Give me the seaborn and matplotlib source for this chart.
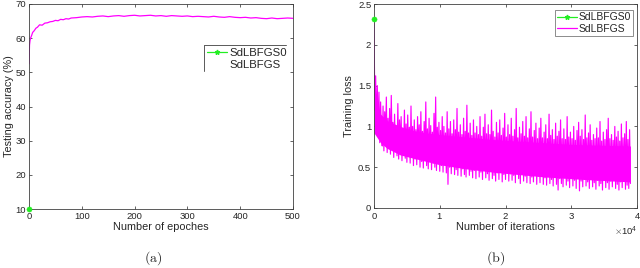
import numpy as np
import matplotlib
matplotlib.use("Agg")
import matplotlib.pyplot as plt
from matplotlib.lines import Line2D
import seaborn as sns

# ==============================================================
# DATA
# ==============================================================
# (a) testing accuracy vs epochs
acc_epochs = [0, 1, 2, 3, 5, 7, 10, 13, 16, 20, 25, 30, 35, 40, 45, 50,
              55, 60, 65, 70, 75, 80, 90, 100,
              110, 120, 130, 140, 150, 160, 170, 180, 190, 200,
              210, 220, 230, 240, 250, 260, 270, 280, 290, 300,
              310, 320, 330, 340, 350, 360, 370, 380, 390, 400,
              410, 420, 430, 440, 450, 460, 470, 480, 490, 500]
acc_sdlbfgs = [52.5, 58.0, 59.3, 60.0, 60.8, 61.7, 62.2, 62.9, 63.2, 63.9,
               63.8, 64.4, 64.5, 64.8, 64.9, 65.2, 65.1, 65.5, 65.4, 65.7,
               65.6, 65.9, 66.0, 66.2,
               66.3, 66.2, 66.4, 66.5, 66.3, 66.5, 66.6, 66.4, 66.6, 66.7,
               66.5, 66.6, 66.7, 66.5, 66.6, 66.4, 66.6, 66.5, 66.4, 66.5,
               66.3, 66.4, 66.3, 66.2, 66.4, 66.2, 66.1, 66.3, 66.1, 66.0,
               66.1, 65.9, 66.0, 65.8, 65.7, 65.9, 65.7, 65.8, 65.9, 65.8]
acc_sd0_epoch = [0]
acc_sd0 = [10.0]

# (b) training loss vs iterations, one sample every 125 iterations
loss_step = 125
loss_sdlbfgs = [
    2.30, 1.20, 1.62, 0.95, 1.50, 0.88, 1.42, 0.80, 1.30, 0.92,
    0.76, 1.25, 0.70, 1.18, 0.86, 1.36, 0.68, 1.10, 0.74, 1.22,
    0.66, 1.38, 0.80, 1.05, 0.62, 1.15, 0.72, 0.98, 0.64, 1.28,
    0.60, 1.08, 0.75, 1.12, 0.58, 0.95, 0.66, 1.20, 0.61, 1.03,
    0.56, 1.14, 0.70, 0.99, 0.55, 1.25, 0.63, 1.00, 0.52, 1.08,
    0.60, 0.96, 0.53, 1.12, 0.68, 1.02, 0.50, 1.18, 0.57, 0.94,
    0.49, 1.06, 0.62, 1.30, 0.52, 0.97, 0.48, 1.10, 0.58, 1.01,
    0.47, 0.93, 0.55, 1.16, 0.50, 1.36, 0.46, 0.99, 0.60, 1.05,
    0.45, 0.95, 0.52, 1.12, 0.44, 1.00, 0.56, 0.92, 0.43, 1.18,
    0.29, 0.97, 0.50, 1.06, 0.42, 0.91, 0.54, 1.08, 0.41, 0.96,
    0.47, 1.22, 0.40, 0.93, 0.52, 1.02, 0.39, 0.90, 0.48, 1.10,
    0.41, 0.94, 0.38, 1.26, 0.50, 0.92, 0.40, 1.04, 0.45, 0.89,
    0.37, 1.08, 0.46, 0.92, 0.36, 1.00, 0.49, 0.90, 0.38, 1.12,
    0.44, 0.88, 0.35, 0.99, 0.47, 1.15, 0.37, 0.91, 0.42, 1.02,
    0.34, 0.90, 0.45, 1.20, 0.36, 0.94, 0.40, 0.87, 0.33, 1.05,
    0.43, 0.92, 0.35, 1.08, 0.46, 0.89, 0.32, 0.98, 0.41, 1.16,
    0.35, 0.87, 0.44, 1.02, 0.33, 0.90, 0.42, 1.10, 0.34, 0.88,
    0.40, 0.96, 0.31, 1.22, 0.43, 0.86, 0.36, 0.99, 0.30, 0.91,
    0.42, 1.06, 0.33, 0.88, 0.39, 1.12, 0.31, 0.86, 0.44, 0.97,
    0.30, 1.18, 0.38, 0.87, 0.32, 0.95, 0.41, 1.04, 0.29, 0.85,
    0.39, 0.98, 0.31, 1.10, 0.43, 0.86, 0.29, 0.93, 0.37, 1.02,
    0.28, 0.85, 0.40, 1.15, 0.30, 0.89, 0.35, 0.96, 0.27, 0.84,
    0.38, 1.04, 0.29, 0.88, 0.22, 0.94, 0.36, 1.08, 0.30, 0.85,
    0.26, 0.97, 0.37, 0.84, 0.28, 1.12, 0.33, 0.87, 0.25, 0.93,
    0.36, 0.85, 0.27, 1.00, 0.34, 0.83, 0.24, 0.95, 0.38, 1.05,
    0.21, 0.88, 0.33, 0.96, 0.26, 0.84, 0.35, 1.14, 0.27, 0.86,
    0.32, 0.92, 0.24, 1.02, 0.36, 0.83, 0.26, 0.90, 0.31, 0.85,
    0.23, 0.98, 0.34, 0.86, 0.27, 1.06, 0.30, 0.82, 0.22, 0.93,
    0.35, 0.84, 0.25, 0.96, 0.31, 1.10, 0.23, 0.85, 0.33, 0.90,
    0.26, 0.83, 0.36, 1.00, 0.24, 0.87, 0.29, 0.94, 0.22, 0.82,
    0.32, 1.03, 0.25, 0.86, 0.34, 0.91, 0.23, 1.06, 0.28, 0.84,
    0.24, 0.96, 0.30]
loss_iters = np.arange(len(loss_sdlbfgs)) * loss_step

# dense core of the noisy loss band
core_iters = [0, 1000, 2000, 4000, 6000, 8000, 10000, 14000, 18000,
              22000, 26000, 30000, 34000, 39000]
core_hi = [1.36, 1.15, 1.07, 1.00, 0.95, 0.92, 0.90, 0.87, 0.84,
           0.82, 0.80, 0.78, 0.77, 0.76]
core_lo = [0.92, 0.80, 0.73, 0.65, 0.61, 0.57, 0.53, 0.48, 0.44,
           0.41, 0.38, 0.36, 0.34, 0.32]

loss_sd0_iter = [0]
loss_sd0 = [2.32]

# ==============================================================
# STYLE
# ==============================================================
sns.set_style("ticks")
plt.rcParams['font.family'] = ['Liberation Sans', 'DejaVu Sans']
plt.rcParams['mathtext.fontset'] = 'cm'
plt.rcParams['xtick.direction'] = 'in'
plt.rcParams['ytick.direction'] = 'in'
plt.rcParams['xtick.top'] = True
plt.rcParams['ytick.right'] = True
plt.rcParams['axes.edgecolor'] = '0.25'
plt.rcParams['axes.linewidth'] = 0.6

MAGENTA = '#ff00ff'
GREEN = '#22ee22'
TICK_FS = 6.8
LABEL_FS = 7.8

fig = plt.figure(figsize=(6.4, 2.68), dpi=100)
ax1 = fig.add_axes([0.0453, 0.2201, 0.4125, 0.765])
ax2 = fig.add_axes([0.5844, 0.2239, 0.4109, 0.761])

# ==============================================================
# (a) Testing accuracy
# ==============================================================
sns.lineplot(x=acc_epochs, y=acc_sdlbfgs, ax=ax1, color=MAGENTA, lw=0.9)
sns.scatterplot(x=acc_sd0_epoch, y=acc_sd0, ax=ax1, color=GREEN, s=14,
                edgecolor=GREEN, clip_on=False, zorder=5)
ax1.set_xlim(0, 500)
ax1.set_ylim(10, 70)
ax1.set_xticks([0, 100, 200, 300, 400, 500])
ax1.set_yticks([10, 20, 30, 40, 50, 60, 70])
ax1.tick_params(labelsize=TICK_FS, length=2.5, width=0.5, pad=2)
ax1.set_xlabel("Number of epoches", fontsize=LABEL_FS, labelpad=1)
ax1.set_ylabel("Testing accuracy (%)", fontsize=LABEL_FS, labelpad=1)

# legend in (a): only the top and left edges of its box are drawn
ax1.plot([0.663, 0.973], [0.80, 0.80], transform=ax1.transAxes,
         color='0.35', lw=0.7, clip_on=False)
ax1.plot([0.663, 0.663], [0.80, 0.673], transform=ax1.transAxes,
         color='0.35', lw=0.7, clip_on=False)
h_a = [Line2D([], [], color=GREEN, lw=0.9, marker='*', markersize=3.5),
       Line2D([], [], color='none', lw=0.9)]
ax1.legend(h_a, ["SdLBFGS0", "SdLBFGS"], loc='upper left',
           bbox_to_anchor=(0.665, 0.80), frameon=False, fontsize=8.2,
           borderpad=0.25, handlelength=1.7, handletextpad=0.2,
           labelspacing=0.2, borderaxespad=0)

# ==============================================================
# (b) Training loss
# ==============================================================
ax2.fill_between(core_iters, core_lo, core_hi, color=MAGENTA, lw=0)
sns.lineplot(x=loss_iters, y=loss_sdlbfgs, ax=ax2, color=MAGENTA, lw=0.85)
sns.scatterplot(x=loss_sd0_iter, y=loss_sd0, ax=ax2, color=GREEN, s=14,
                edgecolor=GREEN, clip_on=False, zorder=5)
ax2.set_xlim(0, 40000)
ax2.set_ylim(0, 2.5)
ax2.set_xticks([0, 10000, 20000, 30000, 40000])
ax2.set_yticks([0, 0.5, 1, 1.5, 2, 2.5])
ax2.set_yticklabels(["0", "0.5", "1", "1.5", "2", "2.5"])
ax2.ticklabel_format(axis='x', style='sci', scilimits=(0, 0), useMathText=True)
ax2.xaxis.get_offset_text().set_fontsize(TICK_FS)
ax2.tick_params(labelsize=TICK_FS, length=2.5, width=0.5, pad=2)
ax2.set_xlabel("Number of iterations", fontsize=LABEL_FS, labelpad=1)
ax2.set_ylabel("Training loss", fontsize=LABEL_FS, labelpad=3)

h_b = [Line2D([], [], color=GREEN, lw=0.9, marker='*', markersize=3.5),
       Line2D([], [], color=MAGENTA, lw=0.9)]
leg = ax2.legend(h_b, ["SdLBFGS0", "SdLBFGS"], loc='upper right',
                 bbox_to_anchor=(0.985, 0.97), frameon=True, fancybox=False,
                 fontsize=7.5, borderpad=0.2, handlelength=1.9,
                 handletextpad=0.2, labelspacing=0.15, borderaxespad=0)
leg.get_frame().set_edgecolor('0.35')
leg.get_frame().set_linewidth(0.6)

# captions
fig.text(0.240, 0.025, r"$\mathrm{(a)}$", fontsize=10, ha='center')
fig.text(0.775, 0.025, r"$\mathrm{(b)}$", fontsize=10, ha='center')

fig.savefig("out.png", dpi=100)
